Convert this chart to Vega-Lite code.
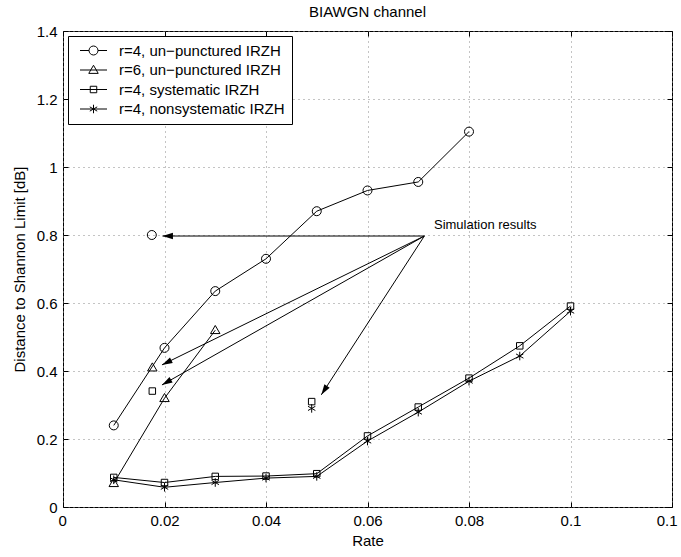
{
  "$schema": "https://vega.github.io/schema/vega-lite/v6.json",
  "width": 609,
  "height": 476,
  "autosize": {"type": "none"},
  "padding": {"left": 63, "top": 31, "right": 9, "bottom": 50},
  "title": {"text": "BIAWGN channel", "fontSize": 15, "fontWeight": "normal", "font": "Liberation Sans", "offset": 4, "color": "#000"},
  "config": {
    "view": {"stroke": "#000", "strokeWidth": 1},
    "font": "Liberation Sans",
    "axis": {
      "domain": false,
      "labelFont": "Liberation Sans",
      "labelFontSize": 15,
      "labelColor": "#000",
      "titleFont": "Liberation Sans",
      "titleFontSize": 15,
      "titleFontWeight": "normal",
      "titleColor": "#000",
      "tickColor": "#000",
      "tickWidth": 1,
      "tickSize": -5,
      "labelPadding": 11,
      "gridColor": "#888",
      "gridDash": [1, 4],
      "gridWidth": 1,
      "gridOpacity": 1
    },
    "legend": {
      "orient": "top-left",
      "offset": 5,
      "fillColor": "white",
      "strokeColor": "#000",
      "padding": 7,
      "labelFont": "Liberation Sans",
      "labelFontSize": 15,
      "labelColor": "#000",
      "labelLimit": 400,
      "symbolSize": 81,
      "symbolStrokeWidth": 1,
      "symbolStrokeColor": "#000",
      "symbolOpacity": 1,
      "symbolOffset": 11,
      "labelOffset": 18,
      "rowPadding": 3.5
    }
  },
  "datasets": {
    "pts": [
      {"series": "r=4, un−punctured IRZH", "kind": "curve", "rate": 0.01, "dist": 0.24},
      {"series": "r=4, un−punctured IRZH", "kind": "curve", "rate": 0.02, "dist": 0.468},
      {"series": "r=4, un−punctured IRZH", "kind": "curve", "rate": 0.03, "dist": 0.635},
      {"series": "r=4, un−punctured IRZH", "kind": "curve", "rate": 0.04, "dist": 0.73},
      {"series": "r=4, un−punctured IRZH", "kind": "curve", "rate": 0.05, "dist": 0.87},
      {"series": "r=4, un−punctured IRZH", "kind": "curve", "rate": 0.06, "dist": 0.931},
      {"series": "r=4, un−punctured IRZH", "kind": "curve", "rate": 0.07, "dist": 0.956},
      {"series": "r=4, un−punctured IRZH", "kind": "curve", "rate": 0.08, "dist": 1.104},
      {"series": "r=6, un−punctured IRZH", "kind": "curve", "rate": 0.01, "dist": 0.07},
      {"series": "r=6, un−punctured IRZH", "kind": "curve", "rate": 0.02, "dist": 0.32},
      {"series": "r=6, un−punctured IRZH", "kind": "curve", "rate": 0.03, "dist": 0.52},
      {"series": "r=4, systematic IRZH", "kind": "curve", "rate": 0.01, "dist": 0.087},
      {"series": "r=4, systematic IRZH", "kind": "curve", "rate": 0.02, "dist": 0.072},
      {"series": "r=4, systematic IRZH", "kind": "curve", "rate": 0.03, "dist": 0.09},
      {"series": "r=4, systematic IRZH", "kind": "curve", "rate": 0.04, "dist": 0.091},
      {"series": "r=4, systematic IRZH", "kind": "curve", "rate": 0.05, "dist": 0.098},
      {"series": "r=4, systematic IRZH", "kind": "curve", "rate": 0.06, "dist": 0.209},
      {"series": "r=4, systematic IRZH", "kind": "curve", "rate": 0.07, "dist": 0.294},
      {"series": "r=4, systematic IRZH", "kind": "curve", "rate": 0.08, "dist": 0.379},
      {"series": "r=4, systematic IRZH", "kind": "curve", "rate": 0.09, "dist": 0.474},
      {"series": "r=4, systematic IRZH", "kind": "curve", "rate": 0.1, "dist": 0.591},
      {"series": "r=4, nonsystematic IRZH", "kind": "curve", "rate": 0.01, "dist": 0.08},
      {"series": "r=4, nonsystematic IRZH", "kind": "curve", "rate": 0.02, "dist": 0.058},
      {"series": "r=4, nonsystematic IRZH", "kind": "curve", "rate": 0.03, "dist": 0.072},
      {"series": "r=4, nonsystematic IRZH", "kind": "curve", "rate": 0.04, "dist": 0.085},
      {"series": "r=4, nonsystematic IRZH", "kind": "curve", "rate": 0.05, "dist": 0.09},
      {"series": "r=4, nonsystematic IRZH", "kind": "curve", "rate": 0.06, "dist": 0.194},
      {"series": "r=4, nonsystematic IRZH", "kind": "curve", "rate": 0.07, "dist": 0.279},
      {"series": "r=4, nonsystematic IRZH", "kind": "curve", "rate": 0.08, "dist": 0.37},
      {"series": "r=4, nonsystematic IRZH", "kind": "curve", "rate": 0.09, "dist": 0.444},
      {"series": "r=4, nonsystematic IRZH", "kind": "curve", "rate": 0.1, "dist": 0.576},
      {"series": "r=4, un−punctured IRZH", "kind": "sim", "rate": 0.0175, "dist": 0.8},
      {"series": "r=6, un−punctured IRZH", "kind": "sim", "rate": 0.0176, "dist": 0.41},
      {"series": "r=4, systematic IRZH", "kind": "sim", "rate": 0.0176, "dist": 0.341},
      {"series": "r=4, systematic IRZH", "kind": "sim", "rate": 0.049, "dist": 0.31},
      {"series": "r=4, nonsystematic IRZH", "kind": "sim", "rate": 0.049, "dist": 0.29}
    ],
    "arrows": [
      {"x0": 0.0712, "y0": 0.797, "x1": 0.0196, "y1": 0.797},
      {"x0": 0.0712, "y0": 0.797, "x1": 0.0195, "y1": 0.418},
      {"x0": 0.0712, "y0": 0.797, "x1": 0.0195, "y1": 0.359},
      {"x0": 0.0712, "y0": 0.797, "x1": 0.0509, "y1": 0.33}
    ],
    "note": [
      {"rate": 0.0731, "dist": 0.829, "label": "Simulation results"}
    ]
  },
  "layer": [
    {
      "data": {"name": "pts"},
      "transform": [{"filter": "datum.kind == 'curve'"}],
      "mark": {"type": "line", "color": "#000", "strokeWidth": 1},
      "encoding": {
        "x": {"field": "rate", "type": "quantitative", "scale": {"domain": [0, 0.12], "nice": false, "zero": false},
              "axis": {"orient": "bottom", "values": [0, 0.02, 0.04, 0.06, 0.08, 0.1, 0.12], "format": "~g", "grid": true, "title": "Rate", "titlePadding": 5,
                       "labelFlush": true, "labelFlushOffset": 5}},
        "y": {"field": "dist", "type": "quantitative", "scale": {"domain": [0, 1.4], "nice": false, "zero": false},
              "axis": {"orient": "left", "values": [0, 0.2, 0.4, 0.6, 0.8, 1, 1.2, 1.4], "format": "~g", "grid": true, "title": "Distance to Shannon Limit [dB]", "titlePadding": 9}},
        "detail": {"field": "series"}
      }
    },
    {
      "data": {"name": "pts"},
      "mark": {"type": "point", "filled": false, "color": "#000", "size": 81, "strokeWidth": 1, "opacity": 1},
      "encoding": {
        "x": {"field": "rate", "type": "quantitative", "axis": null},
        "y": {"field": "dist", "type": "quantitative", "axis": null},
        "shape": {
          "field": "series", "type": "nominal",
          "scale": {
            "domain": ["r=4, un−punctured IRZH", "r=6, un−punctured IRZH", "r=4, systematic IRZH", "r=4, nonsystematic IRZH"],
            "range": [
              "M1,0A1,1 0 1,1 -1,0A1,1 0 1,1 1,0Z",
              "M0,-1.05L1.05,0.75L-1.05,0.75Z",
              "M-0.72,-0.72L0.72,-0.72L0.72,0.72L-0.72,0.72Z",
              "M0,-0.95L0,0.95M-0.82,-0.47L0.82,0.47M-0.82,0.47L0.82,-0.47"
            ]
          },
          "legend": null
        }
      }
    },
    {
      "data": {"name": "pts"},
      "transform": [{"filter": "datum.kind == 'legend-only'"}],
      "mark": {"type": "point", "filled": false, "color": "#000", "size": 81, "strokeWidth": 1, "opacity": 1},
      "encoding": {
        "x": {"field": "rate", "type": "quantitative", "axis": null},
        "y": {"field": "dist", "type": "quantitative", "axis": null},
        "shape": {
          "field": "series", "type": "nominal",
          "scale": {
            "domain": ["r=4, un−punctured IRZH", "r=6, un−punctured IRZH", "r=4, systematic IRZH", "r=4, nonsystematic IRZH"],
            "range": [
              "M-3,0L-1,0M1,0L3,0M1,0A1,1 0 1,1 -1,0A1,1 0 1,1 1,0Z",
              "M-3,0L3,0M0,-1.05L1.05,0.75L-1.05,0.75Z",
              "M-3,0L3,0M-0.72,-0.72L0.72,-0.72L0.72,0.72L-0.72,0.72Z",
              "M-3,0L3,0M0,-0.95L0,0.95M-0.82,-0.47L0.82,0.47M-0.82,0.47L0.82,-0.47"
            ]
          },
          "legend": {"title": null}
        }
      }
    },
    {
      "data": {"name": "arrows"},
      "mark": {"type": "rule", "color": "#000", "strokeWidth": 1},
      "encoding": {
        "x": {"field": "x0", "type": "quantitative", "axis": {"orient": "top", "values": [0, 0.02, 0.04, 0.06, 0.08, 0.1, 0.12], "labels": false, "title": null, "grid": false}},
        "y": {"field": "y0", "type": "quantitative", "axis": {"orient": "right", "values": [0, 0.2, 0.4, 0.6, 0.8, 1, 1.2, 1.4], "labels": false, "title": null, "grid": false}},
        "x2": {"field": "x1"},
        "y2": {"field": "y1"}
      }
    },
    {
      "data": {"name": "arrows"},
      "transform": [{"calculate": "atan2((datum.x1 - datum.x0) * 5075, (datum.y1 - datum.y0) * 340) * 180 / PI", "as": "ang"}],
      "mark": {"type": "point", "shape": "M0,0L-0.3,1L0.3,1Z", "filled": true, "color": "#000", "size": 440, "opacity": 1},
      "encoding": {
        "x": {"field": "x1", "type": "quantitative", "axis": null},
        "y": {"field": "y1", "type": "quantitative", "axis": null},
        "angle": {"field": "ang", "type": "quantitative", "scale": null}
      }
    },
    {
      "data": {"name": "note"},
      "mark": {"type": "text", "align": "left", "baseline": "middle", "fontSize": 13, "font": "Liberation Sans", "color": "#000"},
      "encoding": {
        "x": {"field": "rate", "type": "quantitative", "axis": null},
        "y": {"field": "dist", "type": "quantitative", "axis": null},
        "text": {"field": "label"}
      }
    }
  ],
  "resolve": {"axis": {"x": "independent", "y": "independent"}, "scale": {"shape": "independent"}}
}
